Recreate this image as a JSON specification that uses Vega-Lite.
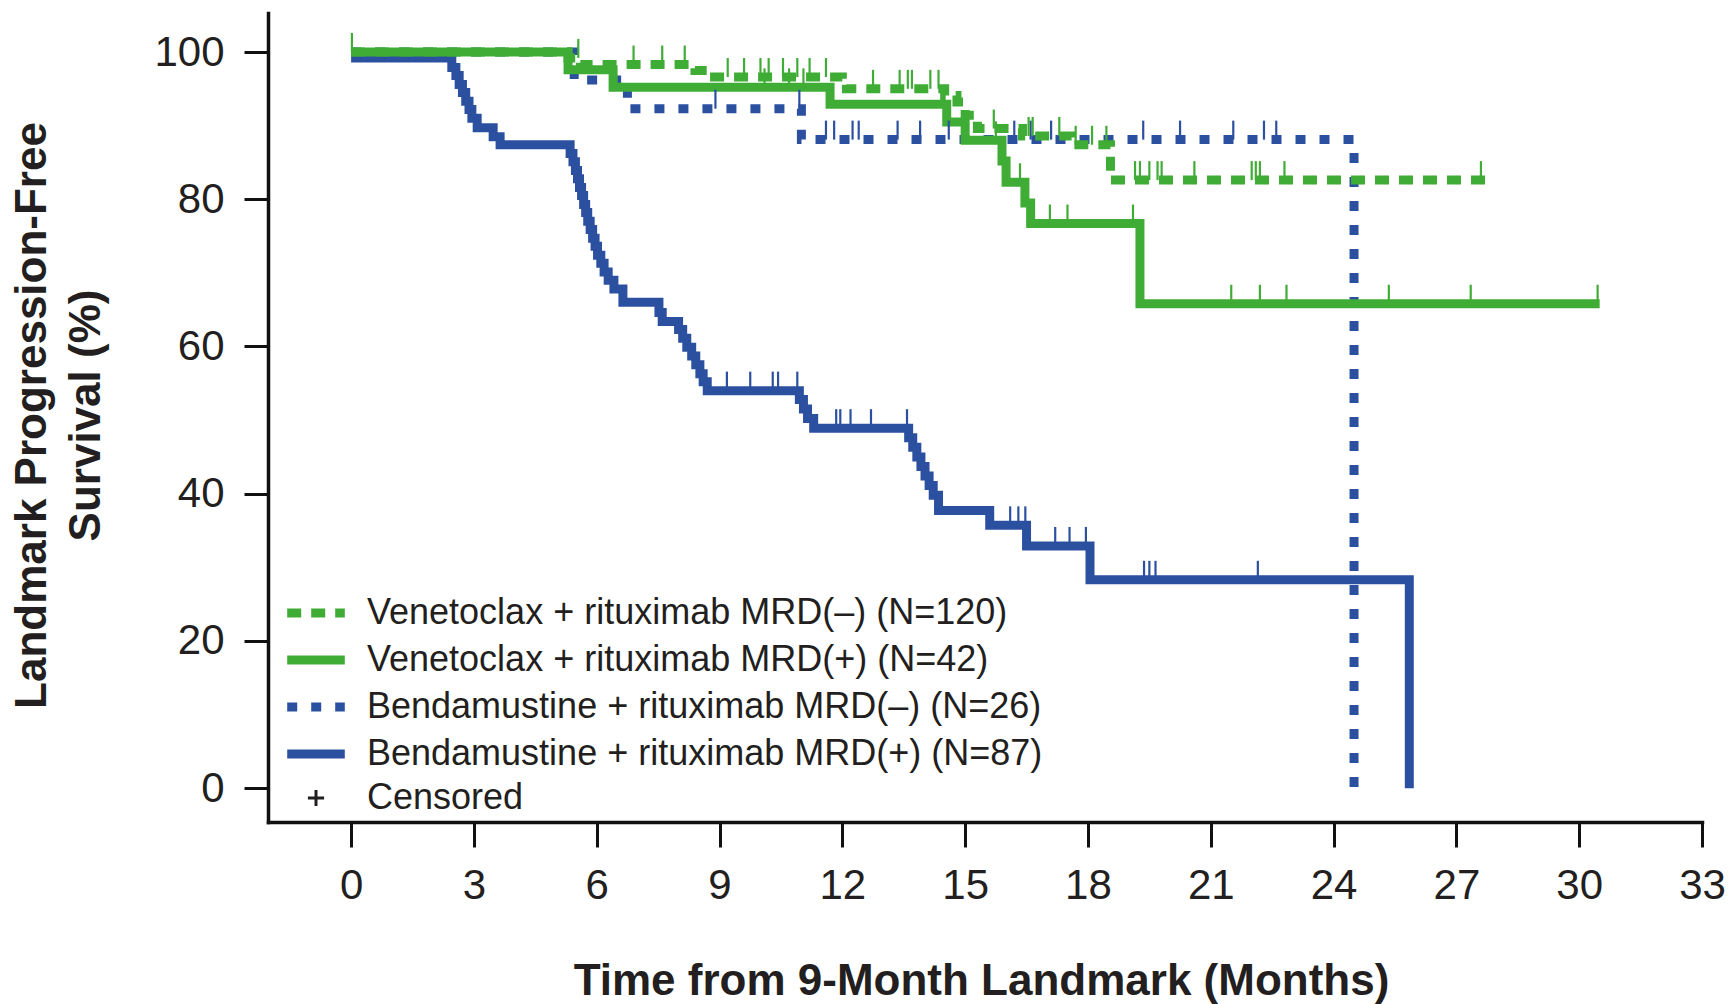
{
  "$schema": "https://vega.github.io/schema/vega-lite/v6.json",
  "width": 1434,
  "height": 809,
  "autosize": {"type": "none"},
  "padding": {"left": 268, "top": 13, "right": 31, "bottom": 182},
  "background": "white",
  "config": {"view": {"stroke": null}, "font": "Liberation Sans"},
  "datasets": {
    "curves": [
      {"group": "Bendamustine + rituximab MRD(+) (N=87)", "t": 0, "s": 99.2},
      {"group": "Bendamustine + rituximab MRD(+) (N=87)", "t": 2.46, "s": 97.9},
      {"group": "Bendamustine + rituximab MRD(+) (N=87)", "t": 2.56, "s": 96.8},
      {"group": "Bendamustine + rituximab MRD(+) (N=87)", "t": 2.64, "s": 95.6},
      {"group": "Bendamustine + rituximab MRD(+) (N=87)", "t": 2.72, "s": 94.5},
      {"group": "Bendamustine + rituximab MRD(+) (N=87)", "t": 2.8, "s": 93.3},
      {"group": "Bendamustine + rituximab MRD(+) (N=87)", "t": 2.88, "s": 92.2},
      {"group": "Bendamustine + rituximab MRD(+) (N=87)", "t": 2.95, "s": 91.0},
      {"group": "Bendamustine + rituximab MRD(+) (N=87)", "t": 3.08, "s": 89.7},
      {"group": "Bendamustine + rituximab MRD(+) (N=87)", "t": 3.47, "s": 88.5},
      {"group": "Bendamustine + rituximab MRD(+) (N=87)", "t": 3.64, "s": 87.4},
      {"group": "Bendamustine + rituximab MRD(+) (N=87)", "t": 5.35, "s": 86.2},
      {"group": "Bendamustine + rituximab MRD(+) (N=87)", "t": 5.42, "s": 85.1},
      {"group": "Bendamustine + rituximab MRD(+) (N=87)", "t": 5.48, "s": 83.9},
      {"group": "Bendamustine + rituximab MRD(+) (N=87)", "t": 5.53, "s": 82.8},
      {"group": "Bendamustine + rituximab MRD(+) (N=87)", "t": 5.58, "s": 81.6},
      {"group": "Bendamustine + rituximab MRD(+) (N=87)", "t": 5.63, "s": 80.5},
      {"group": "Bendamustine + rituximab MRD(+) (N=87)", "t": 5.68, "s": 79.3},
      {"group": "Bendamustine + rituximab MRD(+) (N=87)", "t": 5.73, "s": 78.2},
      {"group": "Bendamustine + rituximab MRD(+) (N=87)", "t": 5.78, "s": 77.0},
      {"group": "Bendamustine + rituximab MRD(+) (N=87)", "t": 5.84, "s": 75.9},
      {"group": "Bendamustine + rituximab MRD(+) (N=87)", "t": 5.9, "s": 74.7},
      {"group": "Bendamustine + rituximab MRD(+) (N=87)", "t": 5.96, "s": 73.6},
      {"group": "Bendamustine + rituximab MRD(+) (N=87)", "t": 6.02, "s": 72.4},
      {"group": "Bendamustine + rituximab MRD(+) (N=87)", "t": 6.1, "s": 71.3},
      {"group": "Bendamustine + rituximab MRD(+) (N=87)", "t": 6.18, "s": 70.1},
      {"group": "Bendamustine + rituximab MRD(+) (N=87)", "t": 6.28, "s": 69.0},
      {"group": "Bendamustine + rituximab MRD(+) (N=87)", "t": 6.42, "s": 67.8},
      {"group": "Bendamustine + rituximab MRD(+) (N=87)", "t": 6.64, "s": 66.0},
      {"group": "Bendamustine + rituximab MRD(+) (N=87)", "t": 7.52, "s": 64.6},
      {"group": "Bendamustine + rituximab MRD(+) (N=87)", "t": 7.6, "s": 63.4},
      {"group": "Bendamustine + rituximab MRD(+) (N=87)", "t": 8.0, "s": 62.3},
      {"group": "Bendamustine + rituximab MRD(+) (N=87)", "t": 8.1, "s": 61.1},
      {"group": "Bendamustine + rituximab MRD(+) (N=87)", "t": 8.2, "s": 59.9},
      {"group": "Bendamustine + rituximab MRD(+) (N=87)", "t": 8.32, "s": 58.7},
      {"group": "Bendamustine + rituximab MRD(+) (N=87)", "t": 8.42, "s": 57.5},
      {"group": "Bendamustine + rituximab MRD(+) (N=87)", "t": 8.52, "s": 56.3},
      {"group": "Bendamustine + rituximab MRD(+) (N=87)", "t": 8.6, "s": 55.2},
      {"group": "Bendamustine + rituximab MRD(+) (N=87)", "t": 8.7, "s": 54.0},
      {"group": "Bendamustine + rituximab MRD(+) (N=87)", "t": 10.95, "s": 52.8},
      {"group": "Bendamustine + rituximab MRD(+) (N=87)", "t": 11.05, "s": 51.5},
      {"group": "Bendamustine + rituximab MRD(+) (N=87)", "t": 11.15, "s": 50.2},
      {"group": "Bendamustine + rituximab MRD(+) (N=87)", "t": 11.3, "s": 48.9},
      {"group": "Bendamustine + rituximab MRD(+) (N=87)", "t": 13.62, "s": 47.6},
      {"group": "Bendamustine + rituximab MRD(+) (N=87)", "t": 13.72, "s": 46.3},
      {"group": "Bendamustine + rituximab MRD(+) (N=87)", "t": 13.82, "s": 45.0},
      {"group": "Bendamustine + rituximab MRD(+) (N=87)", "t": 13.92, "s": 43.7},
      {"group": "Bendamustine + rituximab MRD(+) (N=87)", "t": 14.02, "s": 42.4},
      {"group": "Bendamustine + rituximab MRD(+) (N=87)", "t": 14.12, "s": 41.1},
      {"group": "Bendamustine + rituximab MRD(+) (N=87)", "t": 14.22, "s": 39.8},
      {"group": "Bendamustine + rituximab MRD(+) (N=87)", "t": 14.35, "s": 37.7},
      {"group": "Bendamustine + rituximab MRD(+) (N=87)", "t": 15.6, "s": 35.7},
      {"group": "Bendamustine + rituximab MRD(+) (N=87)", "t": 16.5, "s": 32.9},
      {"group": "Bendamustine + rituximab MRD(+) (N=87)", "t": 18.05, "s": 28.3},
      {"group": "Bendamustine + rituximab MRD(+) (N=87)", "t": 25.85, "s": 0},

      {"group": "Bendamustine + rituximab MRD(–) (N=26)", "t": 0, "s": 100},
      {"group": "Bendamustine + rituximab MRD(–) (N=26)", "t": 5.45, "s": 96.2},
      {"group": "Bendamustine + rituximab MRD(–) (N=26)", "t": 6.75, "s": 92.3},
      {"group": "Bendamustine + rituximab MRD(–) (N=26)", "t": 11.0, "s": 88.1},
      {"group": "Bendamustine + rituximab MRD(–) (N=26)", "t": 24.5, "s": 0},

      {"group": "Venetoclax + rituximab MRD(+) (N=42)", "t": 0, "s": 100},
      {"group": "Venetoclax + rituximab MRD(+) (N=42)", "t": 5.3, "s": 97.6},
      {"group": "Venetoclax + rituximab MRD(+) (N=42)", "t": 6.4, "s": 95.2},
      {"group": "Venetoclax + rituximab MRD(+) (N=42)", "t": 11.7, "s": 92.9},
      {"group": "Venetoclax + rituximab MRD(+) (N=42)", "t": 14.55, "s": 90.5},
      {"group": "Venetoclax + rituximab MRD(+) (N=42)", "t": 15.0, "s": 88.0},
      {"group": "Venetoclax + rituximab MRD(+) (N=42)", "t": 15.9, "s": 85.2},
      {"group": "Venetoclax + rituximab MRD(+) (N=42)", "t": 16.0, "s": 82.3},
      {"group": "Venetoclax + rituximab MRD(+) (N=42)", "t": 16.46, "s": 79.5},
      {"group": "Venetoclax + rituximab MRD(+) (N=42)", "t": 16.6, "s": 76.7},
      {"group": "Venetoclax + rituximab MRD(+) (N=42)", "t": 19.27, "s": 65.8},
      {"group": "Venetoclax + rituximab MRD(+) (N=42)", "t": 30.5, "s": 65.8},

      {"group": "Venetoclax + rituximab MRD(–) (N=120)", "t": 0, "s": 100},
      {"group": "Venetoclax + rituximab MRD(–) (N=120)", "t": 5.3, "s": 99.2},
      {"group": "Venetoclax + rituximab MRD(–) (N=120)", "t": 5.6, "s": 98.3},
      {"group": "Venetoclax + rituximab MRD(–) (N=120)", "t": 8.4, "s": 97.5},
      {"group": "Venetoclax + rituximab MRD(–) (N=120)", "t": 8.7, "s": 96.6},
      {"group": "Venetoclax + rituximab MRD(–) (N=120)", "t": 12.0, "s": 95.8},
      {"group": "Venetoclax + rituximab MRD(–) (N=120)", "t": 12.1, "s": 95.0},
      {"group": "Venetoclax + rituximab MRD(–) (N=120)", "t": 14.5, "s": 94.1},
      {"group": "Venetoclax + rituximab MRD(–) (N=120)", "t": 14.8, "s": 93.2},
      {"group": "Venetoclax + rituximab MRD(–) (N=120)", "t": 15.0, "s": 91.4},
      {"group": "Venetoclax + rituximab MRD(–) (N=120)", "t": 15.3, "s": 89.6},
      {"group": "Venetoclax + rituximab MRD(–) (N=120)", "t": 16.4, "s": 88.6},
      {"group": "Venetoclax + rituximab MRD(–) (N=120)", "t": 17.6, "s": 87.4},
      {"group": "Venetoclax + rituximab MRD(–) (N=120)", "t": 18.55, "s": 82.6},
      {"group": "Venetoclax + rituximab MRD(–) (N=120)", "t": 27.7, "s": 82.6}
    ],
    "censors": [
      {"group": "Bendamustine + rituximab MRD(+) (N=87)", "t": 9.18, "s": 54.0, "kind": "Censored"},
      {"group": "Bendamustine + rituximab MRD(+) (N=87)", "t": 9.75, "s": 54.0, "kind": "Censored"},
      {"group": "Bendamustine + rituximab MRD(+) (N=87)", "t": 10.3, "s": 54.0, "kind": "Censored"},
      {"group": "Bendamustine + rituximab MRD(+) (N=87)", "t": 10.43, "s": 54.0, "kind": "Censored"},
      {"group": "Bendamustine + rituximab MRD(+) (N=87)", "t": 10.9, "s": 54.0, "kind": "Censored"},
      {"group": "Bendamustine + rituximab MRD(+) (N=87)", "t": 11.85, "s": 48.9, "kind": "Censored"},
      {"group": "Bendamustine + rituximab MRD(+) (N=87)", "t": 11.95, "s": 48.9, "kind": "Censored"},
      {"group": "Bendamustine + rituximab MRD(+) (N=87)", "t": 12.2, "s": 48.9, "kind": "Censored"},
      {"group": "Bendamustine + rituximab MRD(+) (N=87)", "t": 12.7, "s": 48.9, "kind": "Censored"},
      {"group": "Bendamustine + rituximab MRD(+) (N=87)", "t": 13.58, "s": 48.9, "kind": "Censored"},
      {"group": "Bendamustine + rituximab MRD(+) (N=87)", "t": 16.1, "s": 35.7, "kind": "Censored"},
      {"group": "Bendamustine + rituximab MRD(+) (N=87)", "t": 16.3, "s": 35.7, "kind": "Censored"},
      {"group": "Bendamustine + rituximab MRD(+) (N=87)", "t": 16.47, "s": 35.7, "kind": "Censored"},
      {"group": "Bendamustine + rituximab MRD(+) (N=87)", "t": 17.2, "s": 32.9, "kind": "Censored"},
      {"group": "Bendamustine + rituximab MRD(+) (N=87)", "t": 17.55, "s": 32.9, "kind": "Censored"},
      {"group": "Bendamustine + rituximab MRD(+) (N=87)", "t": 17.95, "s": 32.9, "kind": "Censored"},
      {"group": "Bendamustine + rituximab MRD(+) (N=87)", "t": 19.37, "s": 28.3, "kind": "Censored"},
      {"group": "Bendamustine + rituximab MRD(+) (N=87)", "t": 19.5, "s": 28.3, "kind": "Censored"},
      {"group": "Bendamustine + rituximab MRD(+) (N=87)", "t": 19.65, "s": 28.3, "kind": "Censored"},
      {"group": "Bendamustine + rituximab MRD(+) (N=87)", "t": 22.15, "s": 28.3, "kind": "Censored"},

      {"group": "Bendamustine + rituximab MRD(–) (N=26)", "t": 8.9, "s": 92.3, "kind": "Censored"},
      {"group": "Bendamustine + rituximab MRD(–) (N=26)", "t": 10.95, "s": 92.3, "kind": "Censored"},
      {"group": "Bendamustine + rituximab MRD(–) (N=26)", "t": 11.6, "s": 88.1, "kind": "Censored"},
      {"group": "Bendamustine + rituximab MRD(–) (N=26)", "t": 11.8, "s": 88.1, "kind": "Censored"},
      {"group": "Bendamustine + rituximab MRD(–) (N=26)", "t": 12.25, "s": 88.1, "kind": "Censored"},
      {"group": "Bendamustine + rituximab MRD(–) (N=26)", "t": 12.4, "s": 88.1, "kind": "Censored"},
      {"group": "Bendamustine + rituximab MRD(–) (N=26)", "t": 13.35, "s": 88.1, "kind": "Censored"},
      {"group": "Bendamustine + rituximab MRD(–) (N=26)", "t": 13.9, "s": 88.1, "kind": "Censored"},
      {"group": "Bendamustine + rituximab MRD(–) (N=26)", "t": 14.6, "s": 88.1, "kind": "Censored"},
      {"group": "Bendamustine + rituximab MRD(–) (N=26)", "t": 16.2, "s": 88.1, "kind": "Censored"},
      {"group": "Bendamustine + rituximab MRD(–) (N=26)", "t": 16.6, "s": 88.1, "kind": "Censored"},
      {"group": "Bendamustine + rituximab MRD(–) (N=26)", "t": 17.1, "s": 88.1, "kind": "Censored"},
      {"group": "Bendamustine + rituximab MRD(–) (N=26)", "t": 19.35, "s": 88.1, "kind": "Censored"},
      {"group": "Bendamustine + rituximab MRD(–) (N=26)", "t": 20.25, "s": 88.1, "kind": "Censored"},
      {"group": "Bendamustine + rituximab MRD(–) (N=26)", "t": 21.55, "s": 88.1, "kind": "Censored"},
      {"group": "Bendamustine + rituximab MRD(–) (N=26)", "t": 22.3, "s": 88.1, "kind": "Censored"},
      {"group": "Bendamustine + rituximab MRD(–) (N=26)", "t": 22.6, "s": 88.1, "kind": "Censored"},

      {"group": "Venetoclax + rituximab MRD(+) (N=42)", "t": 10.1, "s": 95.2, "kind": "Censored"},
      {"group": "Venetoclax + rituximab MRD(+) (N=42)", "t": 10.7, "s": 95.2, "kind": "Censored"},
      {"group": "Venetoclax + rituximab MRD(+) (N=42)", "t": 11.05, "s": 95.2, "kind": "Censored"},
      {"group": "Venetoclax + rituximab MRD(+) (N=42)", "t": 15.75, "s": 88.0, "kind": "Censored"},
      {"group": "Venetoclax + rituximab MRD(+) (N=42)", "t": 16.34, "s": 82.3, "kind": "Censored"},
      {"group": "Venetoclax + rituximab MRD(+) (N=42)", "t": 17.07, "s": 76.7, "kind": "Censored"},
      {"group": "Venetoclax + rituximab MRD(+) (N=42)", "t": 17.5, "s": 76.7, "kind": "Censored"},
      {"group": "Venetoclax + rituximab MRD(+) (N=42)", "t": 19.1, "s": 76.7, "kind": "Censored"},
      {"group": "Venetoclax + rituximab MRD(+) (N=42)", "t": 21.5, "s": 65.8, "kind": "Censored"},
      {"group": "Venetoclax + rituximab MRD(+) (N=42)", "t": 22.2, "s": 65.8, "kind": "Censored"},
      {"group": "Venetoclax + rituximab MRD(+) (N=42)", "t": 22.85, "s": 65.8, "kind": "Censored"},
      {"group": "Venetoclax + rituximab MRD(+) (N=42)", "t": 25.35, "s": 65.8, "kind": "Censored"},
      {"group": "Venetoclax + rituximab MRD(+) (N=42)", "t": 27.35, "s": 65.8, "kind": "Censored"},
      {"group": "Venetoclax + rituximab MRD(+) (N=42)", "t": 30.45, "s": 65.8, "kind": "Censored"},

      {"group": "Venetoclax + rituximab MRD(–) (N=120)", "t": 0.02, "s": 100, "kind": "Censored"},
      {"group": "Venetoclax + rituximab MRD(–) (N=120)", "t": 5.55, "s": 99.2, "kind": "Censored"},
      {"group": "Venetoclax + rituximab MRD(–) (N=120)", "t": 6.9, "s": 98.3, "kind": "Censored"},
      {"group": "Venetoclax + rituximab MRD(–) (N=120)", "t": 7.6, "s": 98.3, "kind": "Censored"},
      {"group": "Venetoclax + rituximab MRD(–) (N=120)", "t": 8.15, "s": 98.3, "kind": "Censored"},
      {"group": "Venetoclax + rituximab MRD(–) (N=120)", "t": 9.2, "s": 96.6, "kind": "Censored"},
      {"group": "Venetoclax + rituximab MRD(–) (N=120)", "t": 9.6, "s": 96.6, "kind": "Censored"},
      {"group": "Venetoclax + rituximab MRD(–) (N=120)", "t": 10.0, "s": 96.6, "kind": "Censored"},
      {"group": "Venetoclax + rituximab MRD(–) (N=120)", "t": 10.2, "s": 96.6, "kind": "Censored"},
      {"group": "Venetoclax + rituximab MRD(–) (N=120)", "t": 10.55, "s": 96.6, "kind": "Censored"},
      {"group": "Venetoclax + rituximab MRD(–) (N=120)", "t": 10.9, "s": 96.6, "kind": "Censored"},
      {"group": "Venetoclax + rituximab MRD(–) (N=120)", "t": 11.2, "s": 96.6, "kind": "Censored"},
      {"group": "Venetoclax + rituximab MRD(–) (N=120)", "t": 11.6, "s": 96.6, "kind": "Censored"},
      {"group": "Venetoclax + rituximab MRD(–) (N=120)", "t": 12.75, "s": 95.0, "kind": "Censored"},
      {"group": "Venetoclax + rituximab MRD(–) (N=120)", "t": 13.4, "s": 95.0, "kind": "Censored"},
      {"group": "Venetoclax + rituximab MRD(–) (N=120)", "t": 13.6, "s": 95.0, "kind": "Censored"},
      {"group": "Venetoclax + rituximab MRD(–) (N=120)", "t": 13.7, "s": 95.0, "kind": "Censored"},
      {"group": "Venetoclax + rituximab MRD(–) (N=120)", "t": 14.15, "s": 95.0, "kind": "Censored"},
      {"group": "Venetoclax + rituximab MRD(–) (N=120)", "t": 14.35, "s": 95.0, "kind": "Censored"},
      {"group": "Venetoclax + rituximab MRD(–) (N=120)", "t": 15.7, "s": 89.6, "kind": "Censored"},
      {"group": "Venetoclax + rituximab MRD(–) (N=120)", "t": 16.55, "s": 88.6, "kind": "Censored"},
      {"group": "Venetoclax + rituximab MRD(–) (N=120)", "t": 16.65, "s": 88.6, "kind": "Censored"},
      {"group": "Venetoclax + rituximab MRD(–) (N=120)", "t": 17.3, "s": 88.6, "kind": "Censored"},
      {"group": "Venetoclax + rituximab MRD(–) (N=120)", "t": 17.7, "s": 87.4, "kind": "Censored"},
      {"group": "Venetoclax + rituximab MRD(–) (N=120)", "t": 18.1, "s": 87.4, "kind": "Censored"},
      {"group": "Venetoclax + rituximab MRD(–) (N=120)", "t": 18.45, "s": 87.4, "kind": "Censored"},
      {"group": "Venetoclax + rituximab MRD(–) (N=120)", "t": 19.15, "s": 82.6, "kind": "Censored"},
      {"group": "Venetoclax + rituximab MRD(–) (N=120)", "t": 19.27, "s": 82.6, "kind": "Censored"},
      {"group": "Venetoclax + rituximab MRD(–) (N=120)", "t": 19.5, "s": 82.6, "kind": "Censored"},
      {"group": "Venetoclax + rituximab MRD(–) (N=120)", "t": 19.7, "s": 82.6, "kind": "Censored"},
      {"group": "Venetoclax + rituximab MRD(–) (N=120)", "t": 19.8, "s": 82.6, "kind": "Censored"},
      {"group": "Venetoclax + rituximab MRD(–) (N=120)", "t": 20.6, "s": 82.6, "kind": "Censored"},
      {"group": "Venetoclax + rituximab MRD(–) (N=120)", "t": 22.0, "s": 82.6, "kind": "Censored"},
      {"group": "Venetoclax + rituximab MRD(–) (N=120)", "t": 22.1, "s": 82.6, "kind": "Censored"},
      {"group": "Venetoclax + rituximab MRD(–) (N=120)", "t": 22.2, "s": 82.6, "kind": "Censored"},
      {"group": "Venetoclax + rituximab MRD(–) (N=120)", "t": 22.8, "s": 82.6, "kind": "Censored"},
      {"group": "Venetoclax + rituximab MRD(–) (N=120)", "t": 27.6, "s": 82.6, "kind": "Censored"}
    ]
  },
  "layer": [
    {
      "data": {"name": "curves"},
      "mark": {"type": "line", "interpolate": "step-after", "strokeWidth": 9, "strokeJoin": "miter"},
      "encoding": {
        "x": {
          "field": "t", "type": "quantitative",
          "title": "Time from 9-Month Landmark (Months)",
          "scale": {"domain": [-2.03, 33], "nice": false, "zero": false},
          "axis": {
            "values": [0, 3, 6, 9, 12, 15, 18, 21, 24, 27, 30, 33],
            "titleFont": "Liberation Sans", "titleFontSize": 44, "titleFontWeight": "bold", "titleColor": "#231f20",
            "titleX": 713, "titleY": 172, "titleBaseline": "alphabetic", "titleAlign": "center",
            "labelFont": "Liberation Sans", "labelFontSize": 42, "labelColor": "#231f20", "labelPadding": 18,
            "labelFlush": false, "labelOverlap": false,
            "tickSize": 25, "tickWidth": 3, "tickColor": "#111111",
            "domainColor": "#111111", "domainWidth": 3.5, "domainCap": "square", "grid": false
          }
        },
        "y": {
          "field": "s", "type": "quantitative",
          "title": ["Landmark Progression-Free", "Survival (%)"],
          "scale": {"domain": [-4.6, 105.3], "nice": false, "zero": false},
          "axis": {
            "values": [0, 20, 40, 60, 80, 100],
            "titleFont": "Liberation Sans", "titleFontSize": 44, "titleFontWeight": "bold", "titleColor": "#231f20",
            "titleAngle": 270, "titleX": -236, "titleY": 402, "titleBaseline": "middle", "titleAlign": "center",
            "titleLineHeight": 54,
            "labelFont": "Liberation Sans", "labelFontSize": 42, "labelColor": "#231f20", "labelPadding": 20,
            "tickSize": 24, "tickWidth": 3, "tickColor": "#111111",
            "domainColor": "#111111", "domainWidth": 3.5, "domainCap": "square", "grid": false
          }
        },
        "color": {
          "field": "group", "type": "nominal",
          "scale": {
            "domain": ["Venetoclax + rituximab MRD(–) (N=120)", "Venetoclax + rituximab MRD(+) (N=42)", "Bendamustine + rituximab MRD(–) (N=26)", "Bendamustine + rituximab MRD(+) (N=87)"],
            "range": ["#3fac35", "#3fac35", "#2c50a0", "#2c50a0"]
          },
          "legend": {
            "orient": "none", "legendX": 30, "legendY": 582, "title": null, "padding": 0,
            "symbolType": "M-3.2,0L3.2,0", "symbolSize": 324, "symbolStrokeWidth": 9,
            "labelFont": "Liberation Sans", "labelFontSize": 36, "labelColor": "#231f20", "labelOffset": 33,
            "labelLimit": 900, "rowPadding": 11
          }
        },
        "strokeDash": {
          "field": "group", "type": "nominal",
          "scale": {
            "domain": ["Venetoclax + rituximab MRD(–) (N=120)", "Venetoclax + rituximab MRD(+) (N=42)", "Bendamustine + rituximab MRD(–) (N=26)", "Bendamustine + rituximab MRD(+) (N=87)"],
            "range": [[14, 10], [1, 0], [10, 14], [1, 0]]
          },
          "legend": {
            "orient": "none", "legendX": 30, "legendY": 582, "title": null, "padding": 0,
            "symbolType": "M-3.2,0L3.2,0", "symbolSize": 324, "symbolStrokeWidth": 9,
            "labelFont": "Liberation Sans", "labelFontSize": 36, "labelColor": "#231f20", "labelOffset": 33,
            "labelLimit": 900, "rowPadding": 11
          }
        }
      }
    },
    {
      "data": {"name": "censors"},
      "mark": {"type": "point", "shape": "M0,0L0,-1", "filled": false, "strokeWidth": 2.2, "size": 1444},
      "encoding": {
        "x": {"field": "t", "type": "quantitative", "title": "Time from 9-Month Landmark (Months)"},
        "y": {"field": "s", "type": "quantitative", "title": ["Landmark Progression-Free", "Survival (%)"]},
        "color": {"field": "group", "type": "nominal", "legend": null},
        "opacity": {
          "field": "kind", "type": "ordinal",
          "scale": {"domain": ["Censored"], "range": [1, 1]},
          "legend": {
            "orient": "none", "legendX": 30, "legendY": 767, "title": null, "padding": 0,
            "symbolType": "M-0.9,0L0.9,0M0,-0.9L0,0.9",
            "symbolSize": 324, "symbolStrokeWidth": 3,
            "symbolStrokeColor": "#231f20", "symbolFillColor": "transparent",
            "labelFont": "Liberation Sans", "labelFontSize": 36, "labelColor": "#231f20", "labelOffset": 33,
            "labelLimit": 900,
            "encode": {
              "symbols": {
                "shape": {"value": "M-0.9,0L0.9,0M0,-0.9L0,0.9"},
                "stroke": {"value": "#231f20"},
                "strokeWidth": {"value": 3}
              }
            }
          }
        }
      }
    }
  ]
}
